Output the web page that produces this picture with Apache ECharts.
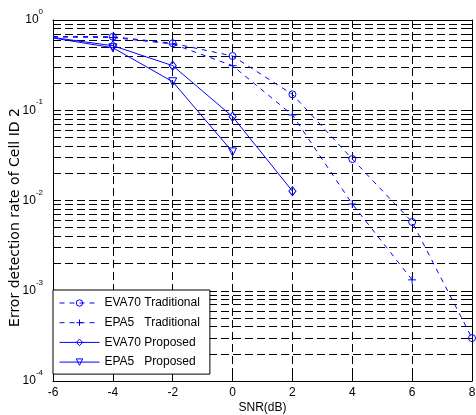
<!DOCTYPE html>
<html>
<head>
<meta charset="utf-8">
<script src="https://cdn.jsdelivr.net/npm/echarts@6/dist/echarts.min.js"></script>
<style>
  html, body { margin: 0; padding: 0; background: #fff; }
  #draw { width: 476px; height: 415px; }
</style>
</head>
<body>
<div id="draw"></div>
<script>
// SNR (dB) points
var snr = [-6, -4, -2, 0, 2, 4, 6, 8];

// error detection rate
var eva70Trad = [0.656, 0.653, 0.552, 0.399, 0.150, 0.0288, 0.00578, 0.000299];
var epa5Trad  = [0.648, 0.640, 0.542, 0.312, 0.0886, 0.00915, 0.00132];
var eva70Prop = [0.640, 0.519, 0.312, 0.0849, 0.0127];
var epa5Prop  = [0.632, 0.493, 0.207, 0.0345];

var seriesNames = ['EVA70 Traditional', 'EPA5   Traditional', 'EVA70 Proposed', 'EPA5   Proposed'];

var xMin = -6, xMax = 8, xStep = 2;
var yMin = 1e-4, yMax = 1;

var FONT = 'Liberation Sans, Arial, sans-serif';
var BLUE = '#0000ff';

// no marker drawn at the left border (as in the original figure)
var pairs = function(ys) {
	return ys.map(function(v, i) {
		if (snr[i] == xMin) {
			return { value : [snr[i], v], symbol : 'none' };
		}
		return [snr[i], v];
	});
};

// minor decades 2..9 x 10^k
var minorVals = [];
for (var k = -4; k < 0; k++) {
	for (var m = 2; m <= 9; m++) {
		minorVals.push(m * Math.pow(10, k));
	}
}

var gridLines = [];
var tickLines = [];
var tickLen = 0.16;
minorVals.forEach(function(v) {
	gridLines.push([{ coord: [xMin, v] }, { coord: [xMax, v] }]);
	tickLines.push([{ coord: [xMin, v] }, { coord: [xMin + tickLen, v] }]);
	tickLines.push([{ coord: [xMax - tickLen, v] }, { coord: [xMax, v] }]);
});

var dashGrid = { color: '#000', width: 1, type: [8, 4] };

var myChart = echarts.init(document.getElementById('draw'));

var option = {
	animation : false,
	grid : {
		left : 53,
		right : 4,
		top : 20,
		bottom : 34,
		outerBoundsMode : 'none'
	},
	legend : {
		data : seriesNames,
		orient : 'vertical',
		left : 53,
		top : 290,
		z : 10,
		itemWidth : 40,
		itemHeight : 8,
		itemGap : 7.7,
		padding : [7, 10, 6, 6],
		backgroundColor : '#fff',
		borderColor : '#000',
		borderWidth : 1,
		borderRadius : 0,
		lineStyle : { width : 1 },
		itemStyle : { borderWidth : 1 },
		textStyle : {
			fontFamily : FONT,
			fontSize : 12,
			color : '#000'
		}
	},
	xAxis : [ {
		type : 'value',
		min : xMin,
		max : xMax,
		interval : xStep,
		name : 'SNR(dB)',
		nameLocation : 'middle',
		nameGap : 21,
		nameMoveOverlap : false,
		nameTextStyle : { fontFamily : FONT, fontSize : 12, color : '#000' },
		axisLine : { onZero : false, lineStyle : { color : '#000', width : 1 } },
		axisTick : { inside : true, length : 5, lineStyle : { color : '#000' } },
		axisLabel : { margin : 6, fontFamily : FONT, fontSize : 12, color : '#000' },
		splitLine : { show : true, lineStyle : dashGrid }
	}, {
		type : 'value',
		position : 'top',
		min : xMin,
		max : xMax,
		interval : xStep,
		axisLine : { onZero : false, lineStyle : { color : '#000', width : 1 } },
		axisTick : { inside : true, length : 5, lineStyle : { color : '#000' } },
		axisLabel : { show : false },
		splitLine : { show : false }
	} ],
	yAxis : [ {
		type : 'log',
		logBase : 10,
		min : yMin,
		max : yMax,
		name : 'Error detection rate of Cell ID 2',
		nameLocation : 'middle',
		nameGap : 31,
		nameMoveOverlap : false,
		nameTextStyle : { fontFamily : 'DejaVu Sans, sans-serif', fontSize : 14, color : '#000', padding : [0, 34, 0, 0] },
		axisLine : { onZero : false, lineStyle : { color : '#000', width : 1 } },
		axisTick : { inside : true, length : 5, lineStyle : { color : '#000' } },
		axisLabel : {
			margin : 10,
			formatter : function(value) {
				var e = Math.round(Math.log(value) / Math.LN10);
				return '{b|10}{s|' + e + '}';
			},
			rich : {
				b : { fontFamily : FONT, fontSize : 12, color : '#000', lineHeight : 24, verticalAlign : 'middle' },
				s : { fontFamily : FONT, fontSize : 8, color : '#000', verticalAlign : 'top' }
			}
		},
		splitLine : { show : true, lineStyle : dashGrid }
	}, {
		type : 'log',
		logBase : 10,
		position : 'right',
		min : yMin,
		max : yMax,
		axisLine : { onZero : false, lineStyle : { color : '#000', width : 1 } },
		axisTick : { inside : true, length : 5, lineStyle : { color : '#000' } },
		axisLabel : { show : false },
		splitLine : { show : false }
	} ],
	series : [ {
		name : 'grid',
		type : 'line',
		data : [],
		z : 1,
		silent : true,
		markLine : {
			silent : true,
			z : 1,
			symbol : [ 'none', 'none' ],
			label : { show : false },
			lineStyle : dashGrid,
			data : gridLines
		}
	}, {
		name : 'ticks',
		type : 'line',
		data : [],
		z : 1,
		silent : true,
		markLine : {
			silent : true,
			z : 1,
			symbol : [ 'none', 'none' ],
			label : { show : false },
			lineStyle : { color : '#000', width : 1, type : 'solid' },
			data : tickLines
		}
	}, {
		name : seriesNames[0],
		type : 'line',
		z : 3,
		data : pairs(eva70Trad),
		symbol : 'circle',
		symbolSize : 7,
		lineStyle : { color : BLUE, width : 1, type : [5, 5] },
		itemStyle : { color : 'rgba(0,0,0,0)', borderColor : BLUE, borderWidth : 1 }
	}, {
		name : seriesNames[1],
		type : 'line',
		z : 3,
		data : pairs(epa5Trad),
		symbol : 'path://M0,5L10,5M5,0L5,10',
		symbolSize : 8,
		lineStyle : { color : BLUE, width : 1, type : [5, 5] },
		itemStyle : { color : 'rgba(0,0,0,0)', borderColor : BLUE, borderWidth : 1 }
	}, {
		name : seriesNames[2],
		type : 'line',
		z : 3,
		data : pairs(eva70Prop),
		symbol : 'diamond',
		symbolSize : [7, 9],
		lineStyle : { color : BLUE, width : 1, type : 'solid' },
		itemStyle : { color : 'rgba(0,0,0,0)', borderColor : BLUE, borderWidth : 1 }
	}, {
		name : seriesNames[3],
		type : 'line',
		z : 3,
		data : pairs(epa5Prop),
		symbol : 'triangle',
		symbolRotate : 180,
		symbolSize : 8,
		lineStyle : { color : BLUE, width : 1, type : 'solid' },
		itemStyle : { color : 'rgba(0,0,0,0)', borderColor : BLUE, borderWidth : 1 }
	} ]
};
myChart.setOption(option);
</script>
</body>
</html>
